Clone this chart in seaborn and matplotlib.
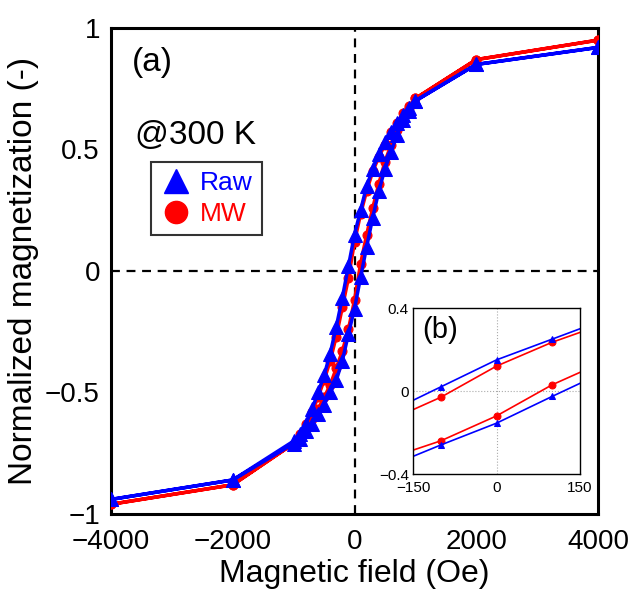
import numpy as np
import pandas as pd
import seaborn as sns
import matplotlib
matplotlib.use("Agg")
import matplotlib.pyplot as plt
from matplotlib.lines import Line2D

# magnetic field (Oe): descending branch then ascending branch
field_desc = [4000, 2000, 1000, 900, 800, 700, 600, 500, 400, 300, 200, 100, 0,
              -100, -200, -300, -400, -500, -600, -700, -800, -900, -1000, -2000, -4000]
field_asc = field_desc[::-1]

raw_desc = [0.92, 0.85, 0.70, 0.67, 0.64, 0.61, 0.57, 0.53, 0.48, 0.42, 0.35, 0.25, 0.15,
            0.02, -0.11, -0.23, -0.34, -0.43, -0.50, -0.57, -0.63, -0.67, -0.70, -0.86, -0.94]
raw_asc = [-0.94, -0.86, -0.71, -0.69, -0.66, -0.63, -0.59, -0.55, -0.50, -0.45, -0.37, -0.26, -0.155,
           -0.026, 0.10, 0.22, 0.33, 0.42, 0.49, 0.56, 0.62, 0.66, 0.70, 0.85, 0.92]
mw_desc = [0.95, 0.87, 0.71, 0.68, 0.65, 0.61, 0.57, 0.52, 0.47, 0.41, 0.33, 0.235, 0.12,
           -0.03, -0.15, -0.27, -0.37, -0.45, -0.52, -0.58, -0.63, -0.67, -0.71, -0.88, -0.96]
mw_asc = [-0.96, -0.88, -0.71, -0.68, -0.65, -0.61, -0.57, -0.52, -0.47, -0.40, -0.33, -0.24, -0.12,
          0.03, 0.15, 0.26, 0.36, 0.45, 0.52, 0.58, 0.63, 0.67, 0.71, 0.87, 0.95]

df_raw = pd.DataFrame({"H": field_desc + field_asc, "M": raw_desc + raw_asc})
df_mw = pd.DataFrame({"H": field_desc + field_asc, "M": mw_desc + mw_asc})

sns.set_style("white")
plt.rcParams["font.family"] = ["Liberation Sans", "DejaVu Sans"]
plt.rcParams["text.color"] = "black"
plt.rcParams["axes.labelcolor"] = "black"
plt.rcParams["xtick.labelcolor"] = "black"
plt.rcParams["ytick.labelcolor"] = "black"

fig = plt.figure(figsize=(6.29, 5.92), dpi=100)
ax = fig.add_axes([0.1765, 0.1318, 0.7742, 0.8209])

ax.axhline(0, color="black", ls=(0, (4, 3)), lw=1.6, zorder=1)
ax.axvline(0, color="black", ls=(0, (4, 3)), lw=1.6, zorder=1)

sns.lineplot(data=df_mw, x="H", y="M", sort=False, estimator=None, color="red",
             marker="o", markersize=6.5, markeredgecolor="red", lw=2.5, ax=ax, zorder=3)
sns.lineplot(data=df_raw, x="H", y="M", sort=False, estimator=None, color="blue",
             marker="^", markersize=10, markeredgecolor="blue", lw=2.5, ax=ax, zorder=4)

ax.set_xlim(-4000, 4000)
ax.set_ylim(-1, 1)
ax.set_xticks([-4000, -2000, 0, 2000, 4000])
ax.set_yticks([-1, -0.5, 0, 0.5, 1])
ax.set_yticklabels(["\u22121", "\u22120.5", "0", "0.5", "1"])
ax.set_xticklabels(["\u22124000", "\u22122000", "0", "2000", "4000"])
ax.tick_params(direction="in", length=5, color="#bbbbbb", labelsize=20, labelcolor="black")
ax.tick_params(axis="x", pad=11)
ax.tick_params(axis="y", pad=8)
for s in ax.spines.values():
    s.set_color("black")
    s.set_linewidth(2.2)
ax.set_xlabel("Magnetic field (Oe)", fontsize=23, labelpad=3, color="black")
ax.set_ylabel("Normalized magnetization (-)", fontsize=24, labelpad=4, color="black")

ax.text(0.043, 0.96, "(a)", transform=ax.transAxes, fontsize=24, va="top", color="black")
ax.text(0.05, 0.81, "@300 K", transform=ax.transAxes, fontsize=24, va="top", color="black")

handles = [Line2D([], [], ls="none", marker="^", color="blue", markersize=17),
           Line2D([], [], ls="none", marker="o", color="red", markersize=16)]
leg = ax.legend(handles, ["Raw", "MW"], loc="upper left", bbox_to_anchor=(0.082, 0.724),
                borderaxespad=0, fontsize=19, frameon=True, fancybox=False, edgecolor="black",
                labelcolor=["blue", "red"], handletextpad=0.3, borderpad=0.35,
                labelspacing=0.25, handlelength=1.2)
leg.get_frame().set_linewidth(1.5)

# inset (b)
axin = fig.add_axes([0.6566, 0.1993, 0.2655, 0.2804])
axin.axhline(0, color="#aaaaaa", ls=":", lw=0.8, zorder=1)
axin.axvline(0, color="#aaaaaa", ls=":", lw=0.8, zorder=1)
sns.lineplot(data=df_mw, x="H", y="M", sort=False, estimator=None, color="red",
             marker="o", markersize=5, markeredgecolor="red", lw=1.2, ax=axin)
sns.lineplot(data=df_raw, x="H", y="M", sort=False, estimator=None, color="blue",
             marker="^", markersize=5, markeredgecolor="blue", lw=1.2, ax=axin)
axin.set_xlim(-150, 150)
axin.set_ylim(-0.4, 0.4)
axin.set_xticks([-150, 0, 150])
axin.set_yticks([-0.4, 0, 0.4])
axin.set_xticklabels(["\u2212150", "0", "150"])
axin.set_yticklabels(["\u22120.4", "0", "0.4"])
axin.tick_params(direction="in", length=0, labelsize=11, labelcolor="black")
axin.tick_params(axis="x", pad=5)
axin.tick_params(axis="y", pad=3)
axin.set_xlabel("")
axin.set_ylabel("")
for s in axin.spines.values():
    s.set_color("black")
    s.set_linewidth(1.0)
axin.text(0.055, 0.95, "(b)", transform=axin.transAxes, fontsize=21, va="top", color="black")

fig.savefig("out.png", dpi=100)
